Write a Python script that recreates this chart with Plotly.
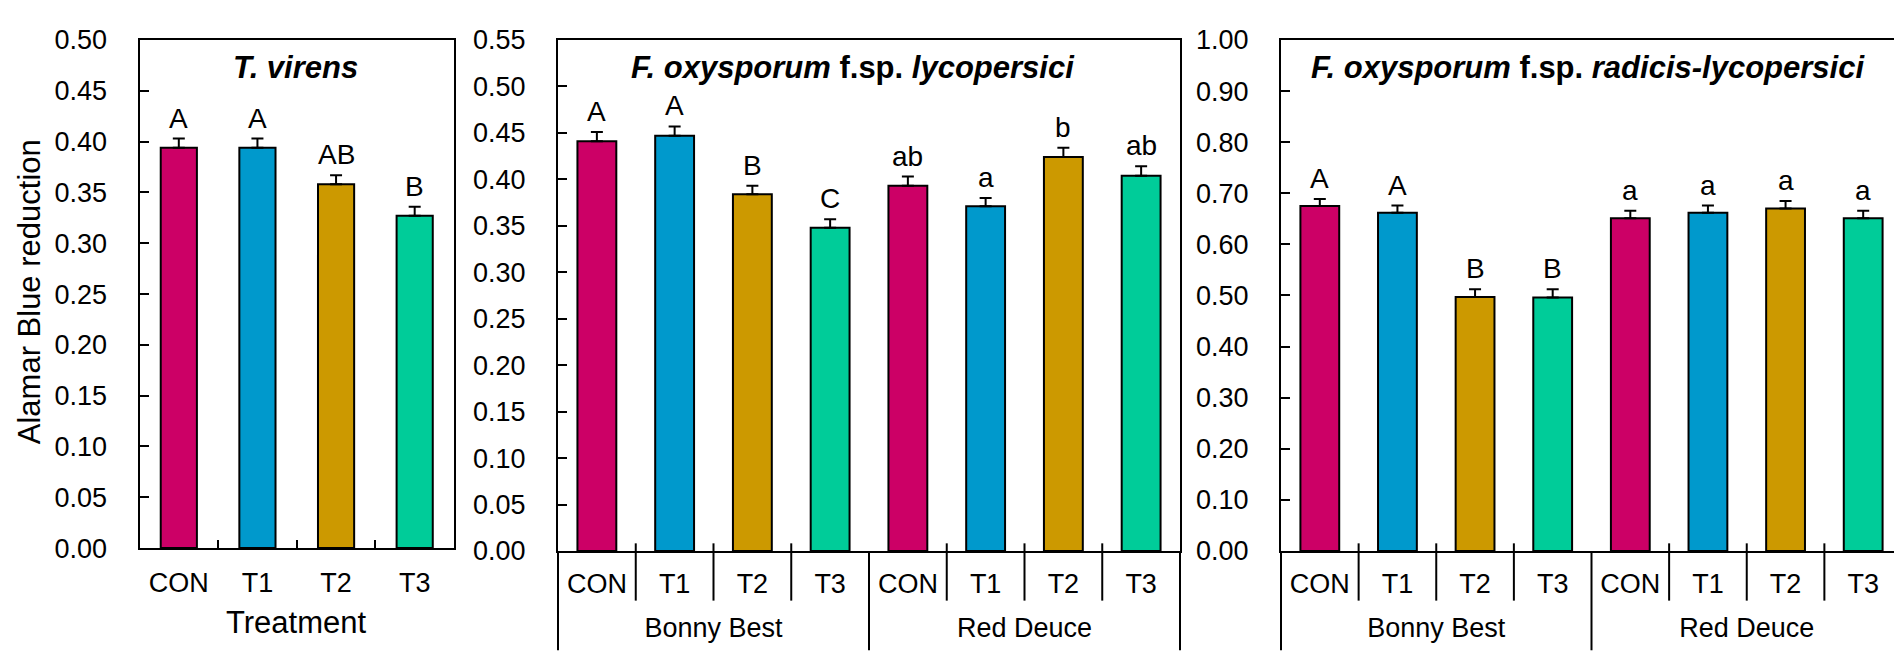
import plotly.graph_objects as go

W, H = 1902, 663

treatments = ["CON", "T1", "T2", "T3"]
cultivars = ["Bonny Best", "Red Deuce"]
colors = ["#CC0066", "#0099CC", "#CC9900", "#00CC99"]

tv_vals = [0.394, 0.394, 0.358, 0.327]
tv_err = [0.009, 0.009, 0.009, 0.009]
tv_letters = ["A", "A", "AB", "B"]

fol_vals = [0.441, 0.447, 0.384, 0.348, 0.393, 0.371, 0.424, 0.404]
fol_err = [0.010, 0.010, 0.009, 0.009, 0.010, 0.009, 0.010, 0.010]
fol_letters = ["A", "A", "B", "C", "ab", "a", "b", "ab"]

forl_vals = [0.675, 0.662, 0.497, 0.496, 0.651, 0.662, 0.670, 0.651]
forl_err = [0.014, 0.014, 0.015, 0.016, 0.015, 0.014, 0.015, 0.015]
forl_letters = ["A", "A", "B", "B", "a", "a", "a", "a"]

titles = ["<b><i>T. virens</i></b>",
          "<b><i>F. oxysporum</i> f.sp. <i>lycopersici</i></b>",
          "<b><i>F. oxysporum</i> f.sp. <i>radicis-lycopersici</i></b>"]

FONT = "Liberation Sans, Arial, sans-serif"


def px_x(p):
    return p / W


def px_y(p):
    return 1 - p / H


fig = go.Figure()

# grouped categories: unique keys, displayed with the treatment names
group_keys = [f"{c} | {t}" for c in cultivars for t in treatments]
group_ticktext = [t for c in cultivars for t in treatments]
bar_colors2 = colors * len(cultivars)
n_grp = len(treatments)
cultivar_centers = [g * n_grp + (n_grp - 1) / 2 for g in range(len(cultivars))]


def err(arr):
    return dict(type="data", array=arr, arrayminus=[0] * len(arr), symmetric=False,
                color="black", thickness=2, width=6)


fig.add_trace(go.Bar(
    x=treatments, y=tv_vals, xaxis="x", yaxis="y", width=0.46,
    marker=dict(color=colors, line=dict(color="black", width=2)),
    error_y=err(tv_err), showlegend=False))
fig.add_trace(go.Bar(
    x=group_keys, y=fol_vals, xaxis="x2", yaxis="y2", width=0.5,
    marker=dict(color=bar_colors2, line=dict(color="black", width=2)),
    error_y=err(fol_err), showlegend=False))
fig.add_trace(go.Bar(
    x=group_keys, y=forl_vals, xaxis="x3", yaxis="y3", width=0.5,
    marker=dict(color=bar_colors2, line=dict(color="black", width=2)),
    error_y=err(forl_err), showlegend=False))
# invisible carriers so the cultivar label axes are drawn
for xa, ya in [("x4", "y2"), ("x5", "y3")]:
    fig.add_trace(go.Scatter(x=cultivar_centers, y=[None] * len(cultivar_centers),
                             xaxis=xa, yaxis=ya, mode="markers",
                             marker=dict(opacity=0), hoverinfo="skip", showlegend=False))

tickfont = dict(family=FONT, size=27, color="black")
x_domains = [[px_x(131.5), px_x(446)], [px_x(550), px_x(1172)], [px_x(1273), px_x(1894)]]
y_domains = [[px_y(550), px_y(17.8)], [px_y(553), px_y(17.8)], [px_y(553), px_y(17.8)]]

common_x = dict(showline=True, linecolor="black", linewidth=2, mirror=True,
                showgrid=False, zeroline=False, tickfont=tickfont)
common_y = dict(showline=True, linecolor="black", linewidth=2, mirror=True,
                showgrid=False, zeroline=False, tickfont=tickfont,
                ticks="inside", ticklen=9, tickwidth=2, tickcolor="black",
                tickformat=".2f", ticklabelstandoff=25)
cult_axis = dict(anchor="free", showline=False, showgrid=False, zeroline=False,
                 ticks="", tickfont=tickfont, type="linear",
                 range=[-0.5, len(group_keys) - 0.5],
                 tickmode="array", tickvals=cultivar_centers, ticktext=cultivars,
                 position=px_y(614))

fig.update_layout(
    width=W, height=H, margin=dict(l=0, r=0, t=0, b=0),
    paper_bgcolor="white", plot_bgcolor="white",
    font=dict(family=FONT, color="black"),
    xaxis=dict(domain=x_domains[0], anchor="y", ticks="inside", tickson="boundaries",
               ticklen=8, tickwidth=2, tickcolor="black", ticklabelstandoff=9, **common_x),
    yaxis=dict(domain=y_domains[0], anchor="x", range=[0, 0.5], dtick=0.05, **common_y),
    xaxis2=dict(domain=x_domains[1], anchor="y2", ticks="", type="category",
                tickvals=group_keys, ticktext=group_ticktext,
                ticklabelstandoff=8, **common_x),
    yaxis2=dict(domain=y_domains[1], anchor="x2", range=[0, 0.55], dtick=0.05, **common_y),
    xaxis3=dict(domain=x_domains[2], anchor="y3", ticks="", type="category",
                tickvals=group_keys, ticktext=group_ticktext,
                ticklabelstandoff=8, **common_x),
    yaxis3=dict(domain=y_domains[2], anchor="x3", range=[0, 1.0], dtick=0.1, **common_y),
    xaxis4=dict(domain=x_domains[1], overlaying="x2", **cult_axis),
    xaxis5=dict(domain=x_domains[2], overlaying="x3", **cult_axis),
)

annotations = []
letter_font = dict(family=FONT, size=28, color="black")
for axn, vals, errs, letters in [("", tv_vals, tv_err, tv_letters),
                                  ("2", fol_vals, fol_err, fol_letters),
                                  ("3", forl_vals, forl_err, forl_letters)]:
    for i, (v, e, t) in enumerate(zip(vals, errs, letters)):
        annotations.append(dict(x=i, y=v + e, xref="x" + axn, yref="y" + axn, text=t,
                                showarrow=False, yanchor="bottom", yshift=3, font=letter_font))

title_centers = [287, 845, 1580]
for t, cx in zip(titles, title_centers):
    annotations.append(dict(x=px_x(cx), y=px_y(46.5), xref="paper", yref="paper", text=t,
                            showarrow=False, xanchor="center", yanchor="middle",
                            font=dict(family=FONT, size=31, color="black")))

annotations.append(dict(x=px_x(288.8), y=px_y(628), xref="paper", yref="paper", text="Treatment",
                        showarrow=False, xanchor="center", yanchor="middle",
                        font=dict(family=FONT, size=31, color="black")))
annotations.append(dict(x=px_x(21), y=px_y(282), xref="paper", yref="paper",
                        text="Alamar Blue reduction", textangle=-90,
                        showarrow=False, xanchor="center", yanchor="middle",
                        font=dict(family=FONT, size=31, color="black")))
fig.update_layout(annotations=annotations)

# category separators for the grouped axes
shapes = []
n = len(group_keys)
for axn in ["x2", "x3"]:
    for k in range(n + 1):
        f = k / n
        if k % n_grp == 0:
            shapes.append(dict(type="line", xref=axn + " domain", yref="paper",
                               x0=f, x1=f, y0=px_y(553), y1=px_y(657),
                               line=dict(color="black", width=2)))
        else:
            shapes.append(dict(type="line", xref=axn + " domain", yref="paper",
                               x0=f, x1=f, y0=px_y(545), y1=px_y(605),
                               line=dict(color="black", width=2)))
fig.update_layout(shapes=shapes)

fig.write_html("out.html")
